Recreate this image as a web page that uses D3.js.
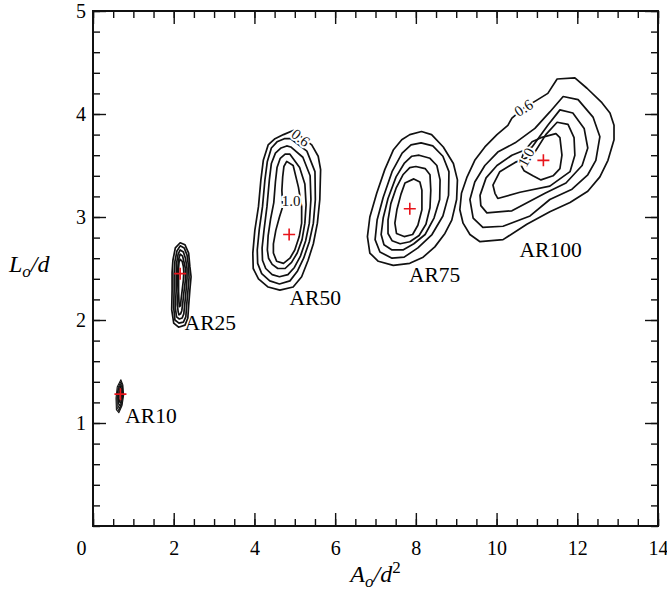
<!DOCTYPE html>
<html>
<head>
<meta charset="utf-8">
<script src="https://cdn.jsdelivr.net/npm/d3@7"></script>
<style>
  body { margin: 0; background: #fff; }
  svg text { font-family: "Liberation Serif", "Times New Roman", serif; }
</style>
</head>
<body>
<div id="wrapper"></div>
<script>
// contour levels, outer ring first
const levels = [0.6, 0.7, 0.8, 0.9, 1.0]

const caseNames = ["AR10", "AR25", "AR50", "AR75", "AR100"]
// red + : peak of each map
const peakX = [0.68, 2.16, 4.86, 7.85, 11.16]
const peakY = [1.28, 2.45, 2.83, 3.08, 3.55]
// where the case names sit (left end, baseline)
const nameX = [0.80, 2.27, 4.87, 7.83, 10.57]
const nameY = [1.00, 1.90, 2.15, 2.37, 2.61]

// inline contour labels
const tagText = ["0.6", "1.0", "0.6", "1.0"]
const tagX = [5.15, 4.91, 10.67, 10.73]
const tagY = [3.77, 3.16, 4.06, 3.58]

const xTicks = [0, 2, 4, 6, 8, 10, 12, 14]
const yTicks = [1, 2, 3, 4, 5]

// rings [x, y], one list per level
const ar10 = [
  [[0.69,1.42],[0.74,1.37],[0.76,1.27],[0.72,1.17],[0.64,1.10],[0.58,1.13],[0.57,1.24],[0.60,1.35]],
  [[0.69,1.40],[0.73,1.36],[0.74,1.27],[0.71,1.18],[0.64,1.12],[0.60,1.15],[0.59,1.24],[0.62,1.34]],
  [[0.69,1.38],[0.72,1.34],[0.73,1.27],[0.70,1.19],[0.65,1.14],[0.62,1.17],[0.61,1.25],[0.63,1.33]],
  [[0.68,1.36],[0.71,1.33],[0.71,1.27],[0.69,1.21],[0.66,1.17],[0.63,1.19],[0.63,1.26],[0.65,1.32]],
  [[0.68,1.34],[0.70,1.31],[0.70,1.27],[0.68,1.23],[0.66,1.20],[0.65,1.22],[0.65,1.27],[0.66,1.31]]
]

const ar25 = [
  [[2.16,2.75],[2.28,2.73],[2.37,2.65],[2.40,2.52],[2.43,2.42],[2.40,2.29],[2.37,2.14],[2.35,2.02],[2.28,1.95],[2.12,1.93],[2.00,1.97],[1.95,2.10],[1.96,2.29],[1.96,2.46],[1.98,2.58],[2.04,2.70]],
  [[2.16,2.72],[2.26,2.70],[2.33,2.63],[2.37,2.51],[2.38,2.41],[2.35,2.27],[2.32,2.14],[2.30,2.03],[2.24,1.98],[2.13,1.97],[2.03,2.00],[2.00,2.12],[2.01,2.29],[2.01,2.45],[2.03,2.57],[2.08,2.67]],
  [[2.16,2.68],[2.24,2.66],[2.29,2.60],[2.33,2.50],[2.33,2.40],[2.30,2.26],[2.27,2.14],[2.25,2.06],[2.21,2.02],[2.14,2.01],[2.07,2.03],[2.04,2.12],[2.06,2.28],[2.06,2.44],[2.07,2.55],[2.11,2.64]],
  [[2.16,2.64],[2.22,2.62],[2.25,2.57],[2.29,2.50],[2.29,2.39],[2.25,2.26],[2.22,2.15],[2.20,2.09],[2.17,2.06],[2.13,2.05],[2.11,2.08],[2.09,2.15],[2.11,2.28],[2.09,2.43],[2.11,2.54],[2.13,2.60]],
  [[2.16,2.59],[2.21,2.57],[2.24,2.52],[2.25,2.47],[2.24,2.39],[2.21,2.29],[2.18,2.19],[2.17,2.14],[2.14,2.13],[2.13,2.18],[2.12,2.28],[2.12,2.40],[2.12,2.50],[2.13,2.56]]
]

const ar50 = [
  [[4.96,3.84],[5.42,3.70],[5.58,3.59],[5.64,3.46],[5.62,3.17],[5.56,2.94],[5.46,2.74],[5.33,2.58],[5.17,2.42],[4.96,2.32],[4.63,2.29],[4.34,2.32],[4.10,2.40],[3.97,2.50],[3.96,2.65],[4.01,2.87],[4.10,3.10],[4.16,3.36],[4.22,3.55],[4.34,3.70],[4.51,3.76],[4.72,3.80]],
  [[4.90,3.76],[5.30,3.64],[5.50,3.44],[5.51,3.17],[5.46,2.94],[5.36,2.76],[5.22,2.60],[5.06,2.47],[4.88,2.38],[4.62,2.35],[4.38,2.38],[4.18,2.45],[4.08,2.55],[4.07,2.68],[4.12,2.88],[4.20,3.10],[4.26,3.36],[4.32,3.54],[4.42,3.67],[4.56,3.73],[4.74,3.76]],
  [[4.90,3.68],[5.20,3.58],[5.38,3.40],[5.40,3.17],[5.36,2.94],[5.27,2.77],[5.14,2.62],[4.99,2.51],[4.83,2.44],[4.62,2.42],[4.44,2.44],[4.28,2.50],[4.20,2.58],[4.19,2.70],[4.24,2.88],[4.31,3.10],[4.37,3.36],[4.42,3.52],[4.52,3.62],[4.66,3.67],[4.80,3.69]],
  [[4.88,3.61],[5.12,3.48],[5.25,3.32],[5.28,3.12],[5.25,2.94],[5.18,2.78],[5.06,2.65],[4.92,2.56],[4.76,2.50],[4.58,2.50],[4.44,2.54],[4.35,2.60],[4.32,2.68],[4.34,2.82],[4.40,2.98],[4.48,3.14],[4.52,3.34],[4.56,3.48],[4.64,3.57],[4.76,3.61]],
  [[4.80,3.54],[4.96,3.50],[5.09,3.29],[5.17,3.10],[5.17,2.94],[5.11,2.81],[5.00,2.68],[4.88,2.60],[4.72,2.55],[4.55,2.57],[4.47,2.65],[4.47,2.74],[4.53,2.87],[4.62,3.00],[4.70,3.10],[4.68,3.26],[4.70,3.39],[4.73,3.49]]
]

const ar75 = [
  [[7.85,3.80],[8.14,3.83],[8.39,3.80],[8.68,3.68],[8.93,3.52],[9.03,3.36],[9.01,3.17],[8.89,2.97],[8.72,2.84],[8.47,2.71],[8.18,2.61],[7.85,2.55],[7.44,2.53],[7.07,2.57],[6.86,2.65],[6.80,2.81],[6.86,3.00],[7.03,3.23],[7.23,3.46],[7.44,3.65],[7.65,3.75]],
  [[8.13,3.72],[8.42,3.69],[8.67,3.59],[8.82,3.44],[8.81,3.21],[8.67,3.01],[8.40,2.83],[8.05,2.70],[7.71,2.61],[7.41,2.60],[7.11,2.66],[6.99,2.78],[7.04,2.97],[7.19,3.19],[7.41,3.44],[7.66,3.62],[7.88,3.70]],
  [[8.08,3.60],[8.35,3.57],[8.52,3.50],[8.60,3.36],[8.59,3.17],[8.45,2.99],[8.23,2.83],[7.95,2.74],[7.68,2.68],[7.41,2.68],[7.21,2.73],[7.14,2.83],[7.19,2.99],[7.31,3.18],[7.51,3.39],[7.71,3.52],[7.90,3.59]],
  [[8.00,3.49],[8.23,3.47],[8.35,3.41],[8.37,3.26],[8.35,3.09],[8.25,2.93],[8.08,2.82],[7.85,2.76],[7.61,2.74],[7.41,2.77],[7.31,2.84],[7.31,2.97],[7.38,3.13],[7.51,3.28],[7.68,3.41],[7.85,3.48]],
  [[7.73,3.33],[7.95,3.37],[8.10,3.34],[8.15,3.26],[8.15,3.07],[8.05,2.92],[7.92,2.83],[7.71,2.81],[7.52,2.84],[7.48,2.94],[7.53,3.07],[7.63,3.22]]
]

const ar100 = [
  [[10.98,4.13],[11.27,4.20],[11.50,4.34],[11.94,4.35],[12.24,4.25],[12.61,4.11],[12.81,4.01],[12.91,3.89],[12.91,3.75],[12.76,3.55],[12.56,3.39],[12.26,3.25],[11.82,3.14],[11.32,3.05],[10.75,2.93],[10.16,2.78],[9.59,2.76],[9.34,2.83],[9.17,2.94],[9.09,3.07],[9.13,3.23],[9.27,3.39],[9.46,3.55],[9.71,3.68],[10.01,3.80],[10.28,3.89],[10.38,3.96],[10.68,4.06]],
  [[9.34,3.17],[9.46,3.34],[9.71,3.50],[10.03,3.63],[10.46,3.72],[10.95,3.86],[11.32,4.02],[11.65,4.17],[12.02,4.14],[12.39,3.97],[12.56,3.78],[12.46,3.55],[12.26,3.41],[11.87,3.27],[11.32,3.17],[10.83,3.01],[10.16,2.91],[9.66,2.90],[9.42,2.99]],
  [[9.59,3.21],[9.74,3.38],[10.01,3.50],[10.38,3.60],[10.88,3.68],[11.27,3.89],[11.57,4.04],[11.89,4.01],[12.17,3.86],[12.26,3.67],[12.12,3.50],[11.72,3.33],[11.20,3.23],[10.38,3.06],[9.76,3.04],[9.61,3.11]],
  [[9.91,3.31],[10.08,3.44],[10.46,3.53],[10.90,3.60],[11.22,3.80],[11.50,3.92],[11.77,3.90],[11.92,3.77],[11.94,3.60],[11.82,3.44],[11.32,3.30],[10.58,3.24],[10.03,3.18],[9.96,3.23]],
  [[10.88,3.73],[11.10,3.77],[11.47,3.81],[11.57,3.77],[11.62,3.60],[11.57,3.47],[11.40,3.40],[11.10,3.36],[10.90,3.40],[10.68,3.45],[10.58,3.52],[10.65,3.60],[10.75,3.67]]
]

const contourSets = [ar10, ar25, ar50, ar75, ar100]

const serif = '"Liberation Serif", "Times New Roman", serif'

function drawChart() {
  const dimensions = {
    width: 667,
    height: 591,
    margins: { top: 11, right: 9, bottom: 65, left: 93 },
  }
  dimensions.boundedWidth = dimensions.width - dimensions.margins.left - dimensions.margins.right
  dimensions.boundedHeight = dimensions.height - dimensions.margins.top - dimensions.margins.bottom

  const wrapper = d3.select("#wrapper")
    .append("svg")
    .attr("width", dimensions.width)
    .attr("height", dimensions.height)
    .attr("font-family", serif)

  const bounds = wrapper.append("g")
    .attr("transform", `translate(${dimensions.margins.left},${dimensions.margins.top})`)

  const xScale = d3.scaleLinear().domain([0, 14]).range([0, dimensions.boundedWidth])
  const yScale = d3.scaleLinear().domain([0, 5]).range([dimensions.boundedHeight, 0])

  // contours
  const ringLine = d3.line()
    .x(d => xScale(d[0]))
    .y(d => yScale(d[1]))
    .curve(d3.curveLinearClosed)

  contourSets.forEach((rings, i) => {
    bounds.append("g")
      .attr("class", "contours " + caseNames[i])
      .selectAll("path")
      .data(rings)
      .join("path")
      .attr("d", ringLine)
      .attr("fill", "none")
      .attr("stroke", "#111")
      .attr("stroke-width", i == 0 ? 1.1 : 1.7)
      .attr("stroke-linejoin", "round")
  })

  // contour labels, with a white halo so they break the line
  const tagAngle = [38, 0, -33, -62]
  bounds.selectAll(".tag")
    .data(tagText)
    .join("text")
    .attr("class", "tag")
    .attr("transform", (d, i) => `translate(${xScale(tagX[i])},${yScale(tagY[i])}) rotate(${tagAngle[i]})`)
    .attr("text-anchor", "middle")
    .attr("dy", "0.35em")
    .attr("font-size", 15)
    .attr("stroke", "#fff")
    .attr("stroke-width", 4)
    .attr("paint-order", "stroke")
    .attr("fill", "#111")
    .text(d => d)

  // peaks
  bounds.selectAll(".peak")
    .data(peakX)
    .join("path")
    .attr("class", "peak")
    .attr("d", (d, i) => {
      const x = xScale(d), y = yScale(peakY[i])
      return `M${x - 6},${y}H${x + 6}M${x},${y - 6}V${y + 6}`
    })
    .attr("stroke", "#e8141b")
    .attr("stroke-width", 1.6)

  // case names
  bounds.selectAll(".name")
    .data(caseNames)
    .join("text")
    .attr("class", "name")
    .attr("x", (d, i) => xScale(nameX[i]))
    .attr("y", (d, i) => yScale(nameY[i]))
    .attr("font-size", 21.5)
    .attr("fill", "#000")
    .text(d => d)

  // axes, ticks pointing inward on all four sides
  const xMinor = d3.range(0, 14.01, 0.5)
  const yMinor = d3.range(0, 5.01, 0.2)
  const axes = [
    [d3.axisBottom(xScale), `translate(0,${dimensions.boundedHeight})`, xMinor, xTicks],
    [d3.axisTop(xScale), null, xMinor, xTicks],
    [d3.axisLeft(yScale), null, yMinor, yTicks],
    [d3.axisRight(yScale), `translate(${dimensions.boundedWidth},0)`, yMinor, yTicks],
  ]
  axes.forEach(([gen, tr, minor, major], k) => {
    const gMinor = bounds.append("g").attr("transform", tr)
      .call(gen.tickValues(minor).tickSize(-7).tickFormat(""))
    const gMajor = bounds.append("g").attr("transform", tr)
      .call(gen.tickValues(major).tickSize(-13).tickPadding(k == 0 ? 15 : 7)
        .tickFormat(k == 0 || k == 2 ? d3.format("d") : ""))
    ;[gMinor, gMajor].forEach(g => {
      g.attr("font-family", serif).attr("font-size", 20)
      g.select(".domain").remove()
      g.selectAll(".tick line").attr("stroke", "#111").attr("stroke-width", 1.4)
      g.selectAll("text").attr("fill", "#000")
    })
    // the 0 of the x axis sits left of the corner
    if (k == 0) gMajor.selectAll(".tick text").filter(d => d == 0).attr("x", -12)
  })

  bounds.append("rect")
    .attr("width", dimensions.boundedWidth)
    .attr("height", dimensions.boundedHeight)
    .attr("fill", "none")
    .attr("stroke", "#111")
    .attr("stroke-width", 2)

  // axis titles
  const xTitle = bounds.append("text")
    .attr("x", dimensions.boundedWidth / 2)
    .attr("y", dimensions.boundedHeight + 56)
    .attr("text-anchor", "middle")
    .attr("font-size", 24)
    .attr("font-style", "italic")
  xTitle.append("tspan").text("A")
  xTitle.append("tspan").attr("dy", 5).attr("font-size", 17).text("o")
  xTitle.append("tspan").attr("dy", -5).text("/d")
  xTitle.append("tspan").attr("dy", -9).attr("font-size", 17).attr("font-style", "normal").text("2")

  const yTitle = wrapper.append("text")
    .attr("x", 9)
    .attr("y", 272)
    .attr("font-size", 24)
    .attr("font-style", "italic")
  yTitle.append("tspan").text("L")
  yTitle.append("tspan").attr("dy", 5).attr("font-size", 17).text("o")
  yTitle.append("tspan").attr("dy", -5).text("/d")
}

drawChart()
</script>
</body>
</html>
